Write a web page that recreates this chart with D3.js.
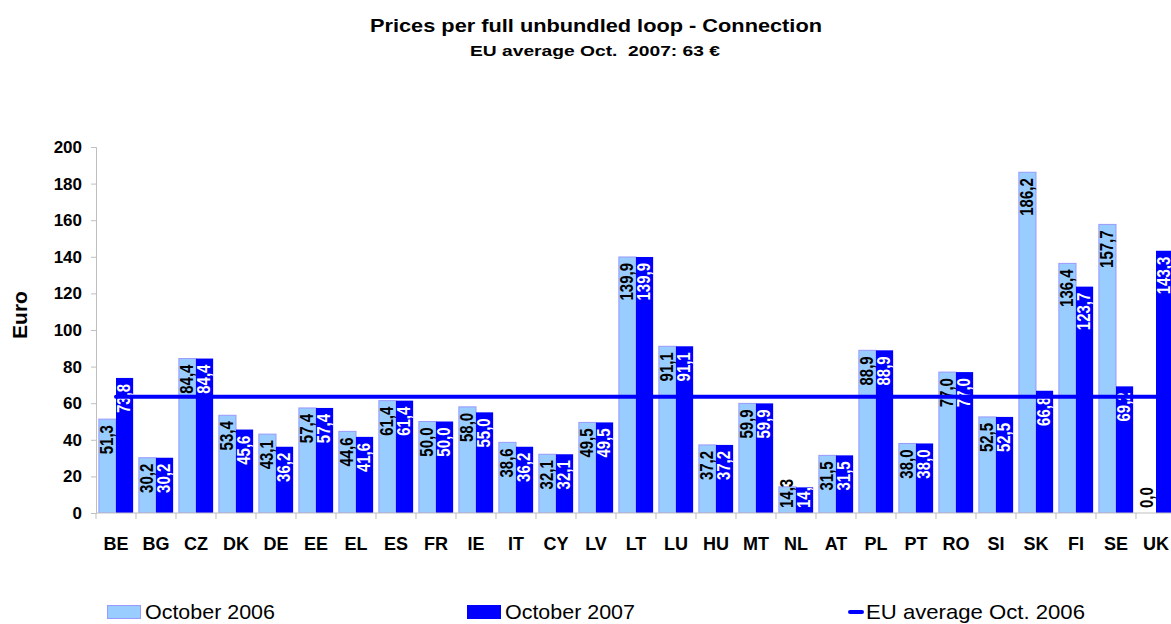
<!DOCTYPE html>
<html>
<head>
<meta charset="utf-8">
<script src="https://cdn.jsdelivr.net/npm/d3@7"></script>
<style>
  html, body { margin: 0; padding: 0; background: #fff; }
  svg { display: block; font-family: "Liberation Sans", Arial, sans-serif; }
  .pre { white-space: pre; }
</style>
</head>
<body>
<svg id="chart" width="1171" height="624"></svg>
<script>
const categories = ["BE","BG","CZ","DK","DE","EE","EL","ES","FR","IE","IT","CY","LV","LT","LU","HU","MT","NL","AT","PL","PT","RO","SI","SK","FI","SE","UK"];
const oct2006 = [51.3,30.2,84.4,53.4,43.1,57.4,44.6,61.4,50.0,58.0,38.6,32.1,49.5,139.9,91.1,37.2,59.9,14.3,31.5,88.9,38.0,77.0,52.5,186.2,136.4,157.7,0.0];
const oct2007 = [73.8,30.2,84.4,45.6,36.2,57.4,41.6,61.4,50.0,55.0,36.2,32.1,49.5,139.9,91.1,37.2,59.9,14.0,31.5,88.9,38.0,77.0,52.5,66.8,123.7,69.2,143.3];
const euAverage = 63.5;
const yTicks = [0,20,40,60,80,100,120,140,160,180,200];
const seriesNames = ["October 2006","October 2007","EU average Oct. 2006"];
const titleText = "Prices per full unbundled loop - Connection";
const subtitleText = "EU average Oct.  2007: 63 \u20AC";
const yTitle = "Euro";

const svg = d3.select("#chart");
const LIGHT = "#99CCFF", LIGHT_STROKE = "#9999FF", DARK = "#0000FF", AXIS = "#BFBFBF";

const plotLeft = 96, plotTop = 147, plotBottom = 513;
const bandW = 40;
const plotRight = plotLeft + bandW * categories.length;

const x = d3.scaleBand().domain(categories).range([plotLeft, plotRight]).paddingInner(0).paddingOuter(0);
const xs = d3.scaleBand().domain(["a","b"]).range([0, x.bandwidth()]).paddingInner(0).paddingOuter(0.1667);
const y = d3.scaleLinear().domain([0, 200]).range([plotBottom, plotTop]);

const fmt = v => d3.format(".1f")(v).replace(".", ",");

// Title
svg.append("text").attr("x", 596).attr("y", 32).attr("text-anchor", "middle")
  .attr("font-weight", "bold").attr("font-size", 18).attr("textLength", 452).attr("lengthAdjust","spacingAndGlyphs").text(titleText);
svg.append("text").attr("class","pre").attr("x", 595).attr("y", 56).attr("text-anchor", "middle")
  .attr("font-weight", "bold").attr("font-size", 15.5).attr("textLength", 250).attr("lengthAdjust","spacingAndGlyphs").text(subtitleText);

// clip
svg.append("defs").append("clipPath").attr("id", "plotclip")
  .append("rect").attr("x", plotLeft).attr("y", plotTop - 20).attr("width", plotRight - plotLeft).attr("height", plotBottom - plotTop + 20);

const plot = svg.append("g").attr("clip-path", "url(#plotclip)");

const groups = plot.selectAll("g.cat").data(categories).join("g").attr("class","cat")
  .attr("transform", d => `translate(${x(d)},0)`);

groups.append("rect")
  .attr("x", xs("a")).attr("width", xs.bandwidth())
  .attr("y", (d,i) => y(oct2006[i])).attr("height", (d,i) => y(0) - y(oct2006[i]))
  .attr("fill", LIGHT).attr("stroke", LIGHT_STROKE).attr("stroke-width", 1);
groups.append("rect")
  .attr("x", xs("b")).attr("width", xs.bandwidth())
  .attr("y", (d,i) => y(oct2007[i])).attr("height", (d,i) => y(0) - y(oct2007[i]))
  .attr("fill", DARK);

// labels
const LABEL_FS = 15, LABEL_SX = 1.18;
function placeLabel(g, cx, value, colour) {
  const t = g.append("text").attr("font-size", LABEL_FS).attr("font-weight","bold").attr("fill", colour)
    .attr("text-anchor","end").text(fmt(value));
  const len = t.node().getComputedTextLength();
  let top = y(value) + 6;
  if (top + len > y(0) - 5) top = y(0) - 5 - len;
  t.attr("transform", `translate(${cx + 5.5},${top}) rotate(-90) scale(1,${LABEL_SX})`);
}
groups.each(function(d, i) {
  const g = d3.select(this);
  placeLabel(g, xs("a") + xs.bandwidth() / 2, oct2006[i], "#000");
  placeLabel(g, xs("b") + xs.bandwidth() / 2, oct2007[i], "#fff");
});

// EU average line (drawn across category centres)
const line = d3.line().x(d => x(d) + x.bandwidth()/2).y(() => y(euAverage));
svg.append("path").datum(categories).attr("d", line)
  .attr("fill","none").attr("stroke", DARK).attr("stroke-width", 4).attr("stroke-linecap","round");

// axes
const yAxis = d3.axisLeft(y).tickValues(yTicks).tickSize(5).tickPadding(9).tickFormat(d3.format("d"));
const gy = svg.append("g").attr("transform", `translate(${plotLeft},0)`).call(yAxis);
gy.select(".domain").attr("stroke", AXIS);
gy.selectAll(".tick line").attr("stroke", AXIS);
gy.selectAll(".tick text").attr("font-size", 17).attr("font-weight","bold").attr("fill","#000")
  .attr("font-family", '"Liberation Sans", Arial, sans-serif');

const gx = svg.append("g").attr("transform", `translate(0,${plotBottom})`);
gx.append("line").attr("x1", plotLeft).attr("x2", plotRight).attr("y1", 0).attr("y2", 0).attr("stroke", AXIS);
gx.selectAll("line.tk").data(d3.range(categories.length + 1)).join("line").attr("class","tk")
  .attr("x1", i => plotLeft + i * bandW).attr("x2", i => plotLeft + i * bandW)
  .attr("y1", 0).attr("y2", 6).attr("stroke", AXIS);
gx.selectAll("text").data(categories).join("text")
  .attr("x", d => x(d) + x.bandwidth()/2).attr("y", 37).attr("text-anchor","middle")
  .attr("font-size", 18).attr("font-weight","bold").text(d => d);

// Y title
svg.append("text").attr("transform", "translate(27,315) rotate(-90)").attr("text-anchor","middle")
  .attr("font-size", 21).attr("font-weight","bold").text(yTitle);

// Legend
const leg = svg.append("g");
leg.append("rect").attr("x", 107.5).attr("y", 605.5).attr("width", 33).attr("height", 13)
  .attr("fill", LIGHT).attr("stroke", LIGHT_STROKE);
leg.append("text").attr("x", 145).attr("y", 619).attr("font-size", 21).attr("textLength",130).attr("lengthAdjust","spacingAndGlyphs").text(seriesNames[0]);
leg.append("rect").attr("x", 467).attr("y", 605).attr("width", 34).attr("height", 14).attr("fill", DARK);
leg.append("text").attr("x", 505).attr("y", 619).attr("font-size", 21).attr("textLength",130).attr("lengthAdjust","spacingAndGlyphs").text(seriesNames[1]);
leg.append("line").attr("x1", 850).attr("x2", 862).attr("y1", 612).attr("y2", 612)
  .attr("stroke", DARK).attr("stroke-width", 4).attr("stroke-linecap","round");
leg.append("text").attr("x", 866).attr("y", 619).attr("font-size", 21).attr("textLength",219).attr("lengthAdjust","spacingAndGlyphs").text(seriesNames[2]);
</script>
</body>
</html>
